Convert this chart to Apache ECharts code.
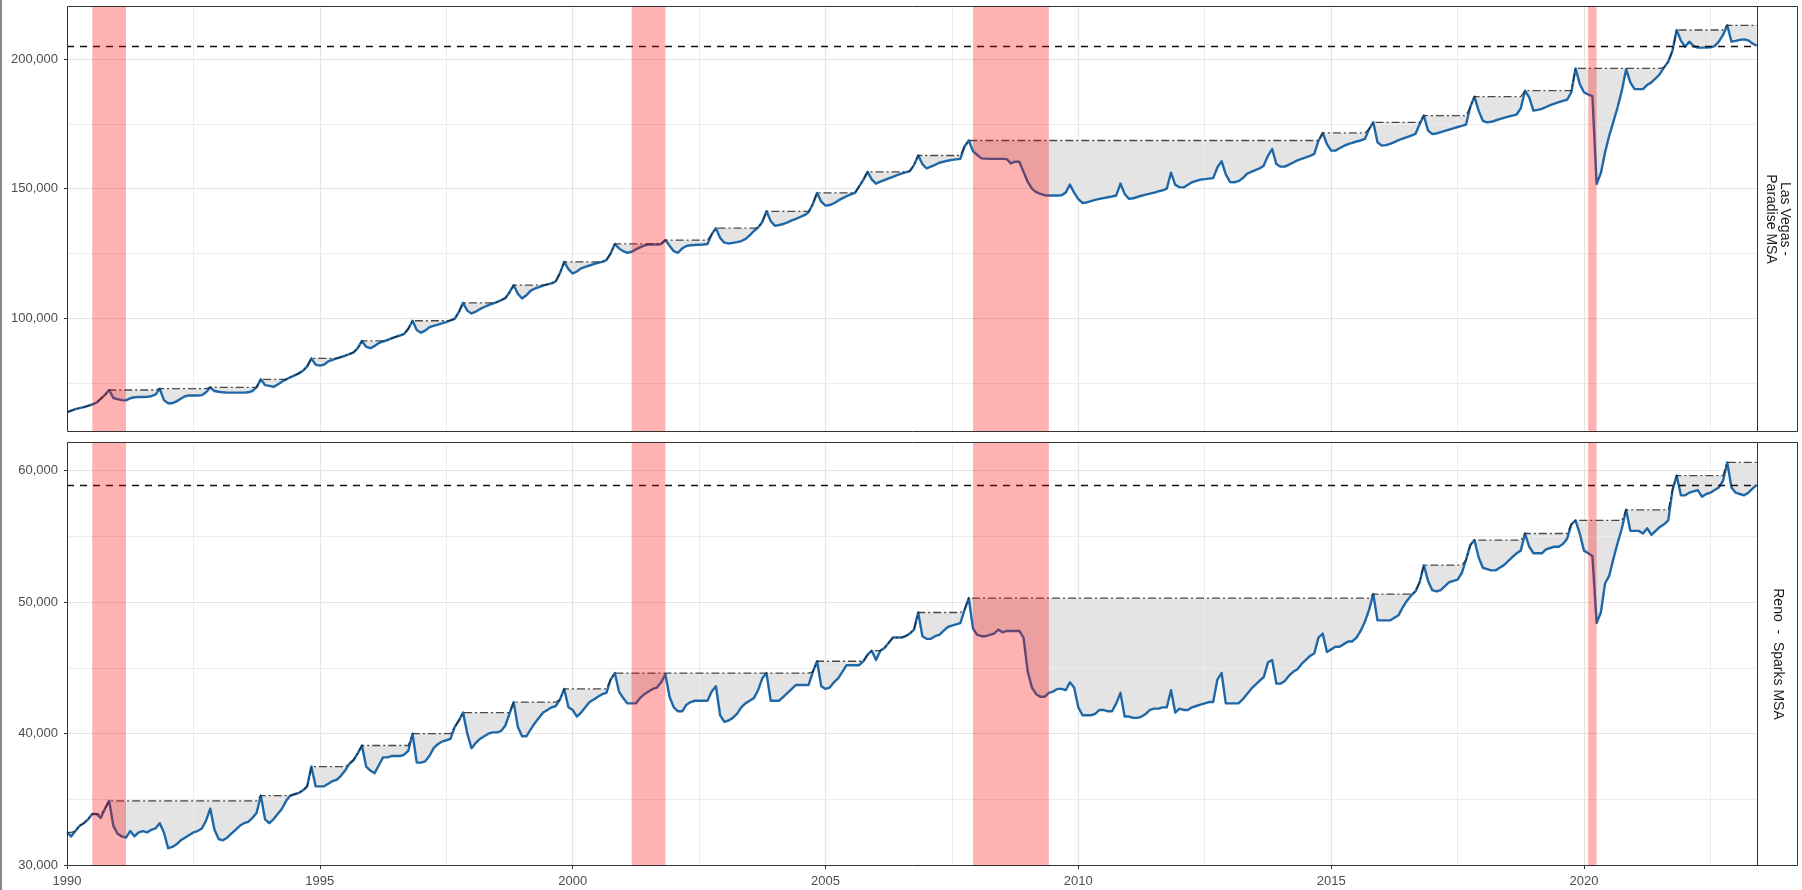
<!DOCTYPE html>
<html>
<head>
<meta charset="utf-8">
<title>Employment drawdowns – Las Vegas and Reno</title>
<script src="https://cdn.jsdelivr.net/npm/echarts@6/dist/echarts.min.js"></script>
<style>
  html, body { margin: 0; padding: 0; background: #fff; }
  #chart { width: 1802px; height: 890px; }
</style>
</head>
<body>
<div id="chart"></div>
<script>
// monthly values, Jan 1990 .. Jun 2023 (one row per year, Jan..Dec)
const startYear = 1990

const lasVegas = [
  63900, 64400, 65000, 65400, 65800, 66300, 66800, 67500, 69000, 70500, 72400, 69300,
  68900, 68500, 68400, 69200, 69600, 69700, 69700, 69800, 70000, 70600, 72900, 68500,
  67300, 67300, 68000, 69000, 70000, 70300, 70300, 70300, 70400, 71500, 73400, 72000,
  71700, 71500, 71400, 71400, 71400, 71400, 71400, 71500, 72000, 73500, 76500, 74300,
  74000, 73600, 74500, 75600, 76500, 77300, 78000, 78800, 79800, 81500, 84600, 82200,
  81800, 82200, 83400, 84000, 84600, 85100, 85600, 86200, 86900, 88500, 91300, 89000,
  88500, 89400, 90500, 91100, 91600, 92300, 92900, 93400, 94000, 96000, 99100, 95500,
  94500, 95300, 96600, 97100, 97600, 98100, 98600, 99200, 99800, 102500, 106000, 103000,
  101900, 102600, 103600, 104400, 105100, 105700, 106300, 107000, 107800, 110000, 112800, 109500,
  107700, 108900, 110600, 111500, 112100, 112600, 113100, 113500, 114300, 117500, 121800, 119000,
  117300, 118100, 119300, 119900, 120400, 120900, 121400, 121800, 122500, 125000, 128700, 127000,
  125900, 125300, 125700, 126600, 127400, 128100, 128500, 128500, 128500, 128700, 130200, 128000,
  125900, 125300, 127000, 127900, 128200, 128300, 128400, 128500, 128700, 132400, 134800, 131000,
  129200, 128900, 129100, 129400, 129800, 130600, 132000, 133700, 135000, 137200, 141300, 137500,
  135700, 136000, 136400, 137000, 137800, 138400, 139100, 139800, 140900, 144100, 148400, 145000,
  143500, 143700, 144400, 145400, 146300, 147100, 147800, 148400, 150900, 153500, 156500, 153500,
  152000, 152700, 153300, 154000, 154600, 155200, 155800, 156300, 156800, 159100, 162800, 159500,
  157800, 158500, 159200, 160000, 160400, 160800, 161100, 161300, 161500, 166300, 168600, 164500,
  163000, 161700, 161600, 161500, 161500, 161500, 161500, 161400, 159800, 160400, 160400, 156500,
  152600, 150000, 148700, 148000, 147500, 147400, 147400, 147400, 147500, 148500, 151600, 148500,
  146000, 144500, 144700, 145200, 145700, 146100, 146400, 146700, 147000, 147400, 152000, 148000,
  146100, 146300, 146800, 147300, 147700, 148100, 148500, 149000, 149400, 150000, 156200, 151500,
  150600, 150500, 151500, 152500, 153000, 153500, 153700, 153900, 154100, 158200, 160600, 155500,
  152600, 152500, 152900, 154000, 155700, 156500, 157200, 157800, 158900, 162700, 165300, 159500,
  158500, 158500, 159300, 160100, 160900, 161500, 162100, 162700, 163400, 168500, 171500, 167200,
  164700, 164700, 165600, 166500, 167200, 167700, 168200, 168600, 169200, 173000, 175600, 167900,
  166600, 166800, 167300, 168000, 168700, 169300, 169900, 170500, 171100, 174900, 178200, 172400,
  171100, 171300, 171800, 172300, 172800, 173300, 173800, 174200, 174700, 181400, 185500, 180100,
  176200, 175600, 175800, 176300, 176800, 177300, 177800, 178200, 178600, 181000, 187800, 185200,
  180100, 180400, 180800, 181500, 182200, 182800, 183400, 183900, 184300, 187200, 196400, 190400,
  187200, 186300, 185700, 151800, 156000, 164000, 170500, 176000, 181500, 188000, 196100, 191000,
  188400, 188400, 188400, 190000, 191000, 192500, 194200, 196800, 199000, 203200, 211200, 207100,
  204700, 206700, 205000, 204400, 204400, 204400, 204500, 205000, 206700, 209300, 213000, 206700,
  207000, 207400, 207600, 207200, 206000, 205100
]

const reno = [
  32500, 32200, 32600, 33000, 33200, 33500, 33900, 33900, 33600, 34300, 34900, 33000,
  32400, 32200, 32100, 32600, 32200, 32500, 32600, 32500, 32700, 32800, 33200, 32500,
  31300, 31400, 31600, 31900, 32100, 32300, 32500, 32600, 32800, 33400, 34300, 32700,
  32000, 31900, 32100, 32400, 32700, 33000, 33200, 33300, 33600, 34000, 35300, 33500,
  33200, 33500, 33900, 34300, 34900, 35300, 35400, 35500, 35700, 36000, 37500, 36000,
  36000, 36000, 36200, 36400, 36500, 36800, 37200, 37700, 38000, 38500, 39100, 37500,
  37200, 37000, 37600, 38200, 38200, 38300, 38300, 38300, 38400, 38700, 40000, 37800,
  37800, 37900, 38300, 38900, 39200, 39400, 39500, 39600, 40500, 41000, 41600, 40000,
  38900, 39300, 39600, 39800, 40000, 40100, 40100, 40200, 40600, 41500, 42400, 40500,
  39800, 39800, 40300, 40800, 41200, 41600, 41800, 42000, 42100, 42600, 43400, 42000,
  41800, 41300, 41600, 42000, 42400, 42600, 42800, 43000, 43100, 44100, 44600, 43200,
  42700, 42300, 42300, 42300, 42700, 43000, 43200, 43400, 43500, 43900, 44500, 42800,
  42000, 41700, 41700, 42200, 42400, 42500, 42500, 42500, 42500, 43200, 43600, 41400,
  40900, 41000, 41200, 41500, 42000, 42300, 42500, 42700, 43300, 44200, 44600, 42500,
  42500, 42500, 42800, 43100, 43400, 43700, 43700, 43700, 43700, 44700, 45500, 43600,
  43400, 43500, 43900, 44200, 44700, 45200, 45200, 45200, 45200, 45500, 46000, 46300,
  45600, 46300, 46500, 46900, 47300, 47300, 47300, 47400, 47600, 47900, 49200, 47400,
  47200, 47200, 47400, 47500, 47800, 48100, 48200, 48300, 48400, 49400, 50300, 48000,
  47500, 47400, 47400, 47500, 47600, 47900, 47700, 47800, 47800, 47800, 47800, 47300,
  44700, 43500, 43000, 42800, 42800, 43100, 43200, 43400, 43400, 43300, 43900, 43500,
  42000, 41400, 41400, 41400, 41500, 41800, 41800, 41700, 41700, 42300, 43100, 41300,
  41300, 41200, 41200, 41300, 41500, 41800, 41900, 41900, 42000, 42000, 43300, 41600,
  41900, 41800, 41800, 42000, 42100, 42200, 42300, 42400, 42400, 44100, 44600, 42300,
  42300, 42300, 42300, 42600, 43000, 43400, 43700, 44000, 44300, 45400, 45600, 43800,
  43800, 44000, 44400, 44700, 44900, 45300, 45600, 45900, 46100, 47300, 47600, 46200,
  46400, 46600, 46600, 46800, 47000, 47000, 47300, 47800, 48500, 49400, 50600, 48600,
  48600, 48600, 48600, 48800, 49000, 49600, 50100, 50500, 50800, 51500, 52800, 51600,
  50900, 50800, 50900, 51200, 51500, 51600, 51700, 52200, 53200, 54300, 54700, 53400,
  52600, 52500, 52400, 52400, 52600, 52800, 53100, 53400, 53700, 53900, 55200, 54200,
  53700, 53700, 53700, 54000, 54100, 54200, 54200, 54400, 54800, 55900, 56200, 55200,
  53900, 53700, 53500, 48400, 49200, 51400, 52000, 53300, 54500, 55600, 57000, 55400,
  55400, 55400, 55200, 55600, 55100, 55400, 55700, 55900, 56200, 58500, 59600, 58100,
  58100, 58300, 58400, 58500, 58000, 58200, 58300, 58500, 58700, 59200, 60600, 58700,
  58300, 58200, 58100, 58300, 58600, 58900
]

// NBER recessions as [start, end] in fractional years
const recessions = [[1990.5, 1991.167], [2001.167, 2001.833], [2007.917, 2009.417], [2020.083, 2020.25]]

const yearTicks = [1990, 1995, 2000, 2005, 2010, 2015, 2020]
const yearMinor = [1992.5, 1997.5, 2002.5, 2007.5, 2012.5, 2017.5, 2022.5]
const lvTicks = [100000, 150000, 200000]
const lvMinor = [75000, 125000, 175000]
const renoTicks = [30000, 40000, 50000, 60000]
const renoMinor = [35000, 45000, 55000]

const panels = [
  { label: 'Las Vegas -\nParadise MSA', values: lasVegas, ticks: lvTicks, minor: lvMinor, min: 56200, max: 220450, top: 6, height: 426 },
  { label: 'Reno  -  Sparks MSA', values: reno, ticks: renoTicks, minor: renoMinor, min: 29950, max: 62150, top: 442, height: 424 }
]

const left = 67
const width = 1690
const xMax = startYear + (lasVegas.length - 1) / 12 + 0.005
const font = '"Liberation Sans", Arial, sans-serif'

const chart = echarts.init(document.getElementById('chart'))

const grids = [], xAxes = [], yAxes = [], series = [], graphics = []

panels.forEach((p, i) => {
  const isBottom = i === panels.length - 1
  const x = p.values.map((_, k) => startYear + k / 12)
  let m = -Infinity
  const peak = p.values.map(v => (m = Math.max(m, v)))
  const last = p.values[p.values.length - 1]
  const valuePts = x.map((t, k) => [t, p.values[k]])
  const peakPts = x.map((t, k) => [t, peak[k]])

  grids.push({ left, top: p.top, width, height: p.height, containLabel: false })

  xAxes.push({
    type: 'value', gridIndex: i, min: startYear, max: xMax,
    splitLine: { show: false }, axisLine: { show: false },
    axisTick: { show: isBottom, customValues: yearTicks, length: 3, lineStyle: { color: '#333', width: 1 } },
    axisLabel: {
      show: isBottom, customValues: yearTicks, color: '#4d4d4d', fontSize: 13, fontFamily: font, margin: 9,
      formatter: v => String(Math.round(v))
    }
  })

  yAxes.push({
    type: 'value', gridIndex: i, min: p.min, max: p.max,
    splitLine: { show: false }, axisLine: { show: false },
    axisTick: { show: true, customValues: p.ticks, length: 3, lineStyle: { color: '#333', width: 1 } },
    axisLabel: {
      customValues: p.ticks, color: '#4d4d4d', fontSize: 13, fontFamily: font, margin: 9,
      formatter: v => v.toLocaleString('en-US')
    }
  })

  const major = { color: '#e4e4e4', width: 1.2, type: 'solid' }
  const minor = { color: '#ececec', width: 1, type: 'solid' }
  const gridLines = [
    ...yearTicks.filter(v => v > startYear).map(v => ({ xAxis: v, lineStyle: major })),
    ...yearMinor.map(v => ({ xAxis: v, lineStyle: minor })),
    ...p.ticks.filter(v => v > p.min && v < p.max).map(v => ({ yAxis: v, lineStyle: major })),
    ...p.minor.map(v => ({ yAxis: v, lineStyle: minor }))
  ]

  const common = { xAxisIndex: i, yAxisIndex: i, symbol: 'none', showSymbol: false, silent: true, animation: false }

  // drawdown fill: grey under the running peak, then white under the series
  series.push({
    ...common, type: 'line', z: 1, data: peakPts,
    lineStyle: { opacity: 0 },
    areaStyle: { color: '#e4e4e4', opacity: 1, origin: 'start' }
  })
  series.push({
    ...common, type: 'line', z: 2, data: valuePts,
    lineStyle: { opacity: 0 },
    areaStyle: { color: '#ffffff', opacity: 1, origin: 'start' }
  })

  // grid lines above the fills
  series.push({
    ...common, type: 'line', data: [], z: 3,
    markLine: { silent: true, z: 3, symbol: ['none', 'none'], label: { show: false }, animation: false, data: gridLines }
  })

  // employment line
  series.push({
    ...common, type: 'line', z: 4, data: valuePts,
    lineStyle: { color: '#1f68a8', width: 2.4, join: 'round' }
  })

  // running peak (dot-dash) and latest level (dashed)
  series.push({
    ...common, type: 'line', z: 5, data: peakPts,
    lineStyle: { color: 'rgba(30,30,30,0.8)', width: 1.3, type: [8, 3, 2, 3] },
    markLine: {
      silent: true, z: 6, symbol: ['none', 'none'], label: { show: false }, animation: false,
      lineStyle: { color: '#111', width: 1.3, type: [7, 6] },
      data: [{ yAxis: last }]
    }
  })

  // recession shading on top
  series.push({
    ...common, type: 'line', data: [], z: 10,
    markArea: {
      silent: true, z: 10, animation: false,
      itemStyle: { color: 'rgba(255,0,0,0.3)' },
      data: recessions.map(r => [{ xAxis: r[0] }, { xAxis: r[1] }])
    }
  })

  // panel border and facet strip
  graphics.push({
    type: 'rect', z: 100, silent: true,
    shape: { x: left + 0.5, y: p.top + 0.5, width: width, height: p.height - 1 },
    style: { fill: 'none', stroke: '#333', lineWidth: 1 }
  })
  graphics.push({
    type: 'rect', z: 100, silent: true,
    shape: { x: left + width + 0.5, y: p.top + 0.5, width: 40, height: p.height - 1 },
    style: { fill: '#fff', stroke: '#333', lineWidth: 1 }
  })
  graphics.push({
    type: 'text', z: 101, silent: true,
    x: left + width + 20.5, y: p.top + p.height / 2, rotation: -Math.PI / 2,
    style: { text: p.label, font: '14px ' + font, fill: '#1a1a1a', align: 'center', verticalAlign: 'middle', lineHeight: 14 }
  })
})

// thin grey edge at the far left of the image
graphics.push({ type: 'rect', z: 100, silent: true, shape: { x: 0, y: 0, width: 2, height: 890 }, style: { fill: '#8a8784' } })

chart.setOption({
  animation: false,
  backgroundColor: '#fff',
  textStyle: { fontFamily: font },
  grid: grids,
  xAxis: xAxes,
  yAxis: yAxes,
  series,
  graphic: graphics
})

window.addEventListener('resize', () => chart.resize())
</script>
</body>
</html>
